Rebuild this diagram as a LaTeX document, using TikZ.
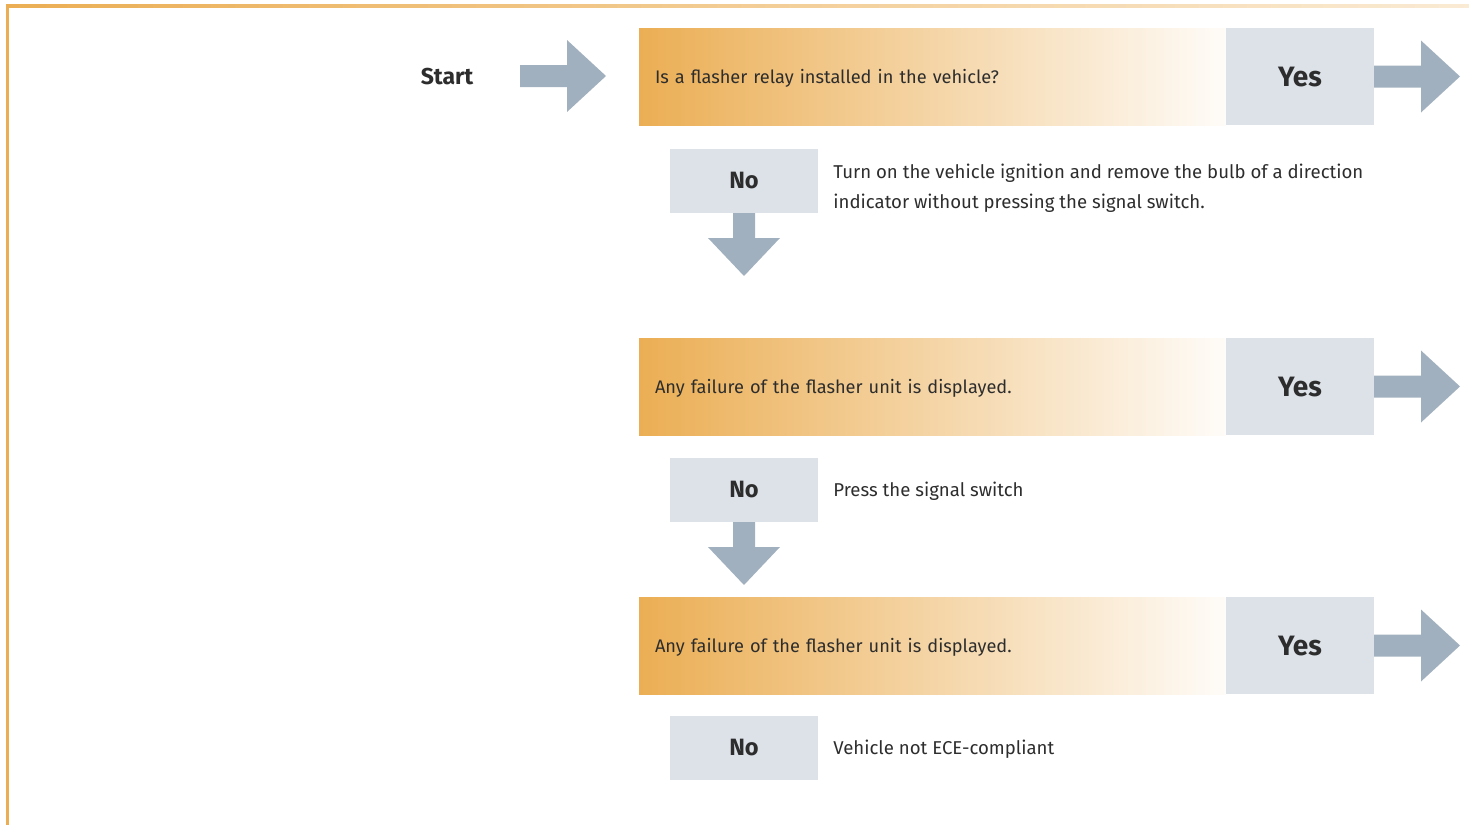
\documentclass[tikz,border=0pt]{standalone}
\usepackage{fontspec}
\setmainfont{Fira Sans}
\usetikzlibrary{positioning}
\definecolor{flashorange}{RGB}{235,174,84}
\definecolor{answergray}{RGB}{220,226,232}
\definecolor{arrowgray}{RGB}{161,176,190}
\definecolor{textdark}{RGB}{45,45,45}

\tikzset{
  question/.style={left color=flashorange, right color=flashorange!4,
    minimum width=293.5pt, minimum height=48.5pt, inner xsep=8pt,
    outer sep=0pt, text width=277.5pt, text depth=0pt, align=left,
    anchor=north west, font=\fontsize{9.1}{11}\selectfont, text=textdark},
  yesbox/.style={fill=answergray, minimum width=74pt, minimum height=48.5pt,
    inner sep=0pt, outer sep=0pt, text depth=0pt,
    font=\fontsize{14}{16}\bfseries, text=textdark},
  nobox/.style={fill=answergray, minimum width=74pt, minimum height=32pt,
    inner sep=0pt, outer sep=0pt, anchor=north west,
    font=\fontsize{11.8}{14}\bfseries, text=textdark},
  note/.style={inner sep=0pt, align=left, font=\fontsize{9.3}{15}\selectfont, text=textdark},
  rarrow/.pic={\fill[arrowgray] (0,-11) -- (47,-11) -- (47,-36) -- (86,0)
    -- (47,36) -- (47,11) -- (0,11) -- cycle;},
  darrow/.pic={\fill[arrowgray] (-11,0) -- (11,0) -- (11,25) -- (36,25)
    -- (0,63) -- (-36,25) -- (-11,25) -- cycle;}
}

\begin{document}
\begin{tikzpicture}[x=0.5pt, y=-0.5pt]
  \useasboundingbox (0,0) rectangle (1469,825);
  % frame
  \shade[left color=flashorange, right color=flashorange!25] (6,4) rectangle (1469,7);
  \fill[flashorange] (6,4) rectangle (9,825);

  % start
  \node[font=\fontsize{11.5}{13}\bfseries, text=textdark] (start) at (447,77) {Start};
  \pic at (520,76) {rarrow};

  % first question
  \node[question] (q1) at (639,28) {Is a flasher relay installed in the vehicle?};
  \node[yesbox, right=0pt of q1] (y1) {Yes};
  \pic at (y1.east) {rarrow};
  \node[nobox] (n1) at (670,149) {No};
  \node[note, anchor=north west] (t1) at (833,164)
    {Turn on the vehicle ignition and remove the bulb of a direction\\
     indicator without pressing the signal switch.};
  \pic at (n1.south) {darrow};

  % second question
  \node[question] (q2) at (639,338) {Any failure of the flasher unit is displayed.};
  \node[yesbox, right=0pt of q2] (y2) {Yes};
  \pic at (y2.east) {rarrow};
  \node[nobox] (n2) at (670,458) {No};
  \node[note, anchor=west] (t2) at ([xshift=7.5pt,yshift=-0.5pt]n2.east) {Press the signal switch};
  \pic at (n2.south) {darrow};

  % third question
  \node[question] (q3) at (639,597) {Any failure of the flasher unit is displayed.};
  \node[yesbox, right=0pt of q3] (y3) {Yes};
  \pic at (y3.east) {rarrow};
  \node[nobox] (n3) at (670,716) {No};
  \node[note, anchor=west] (t3) at ([xshift=7.5pt,yshift=-0.5pt]n3.east) {Vehicle not ECE-compliant};
\end{tikzpicture}
\end{document}
